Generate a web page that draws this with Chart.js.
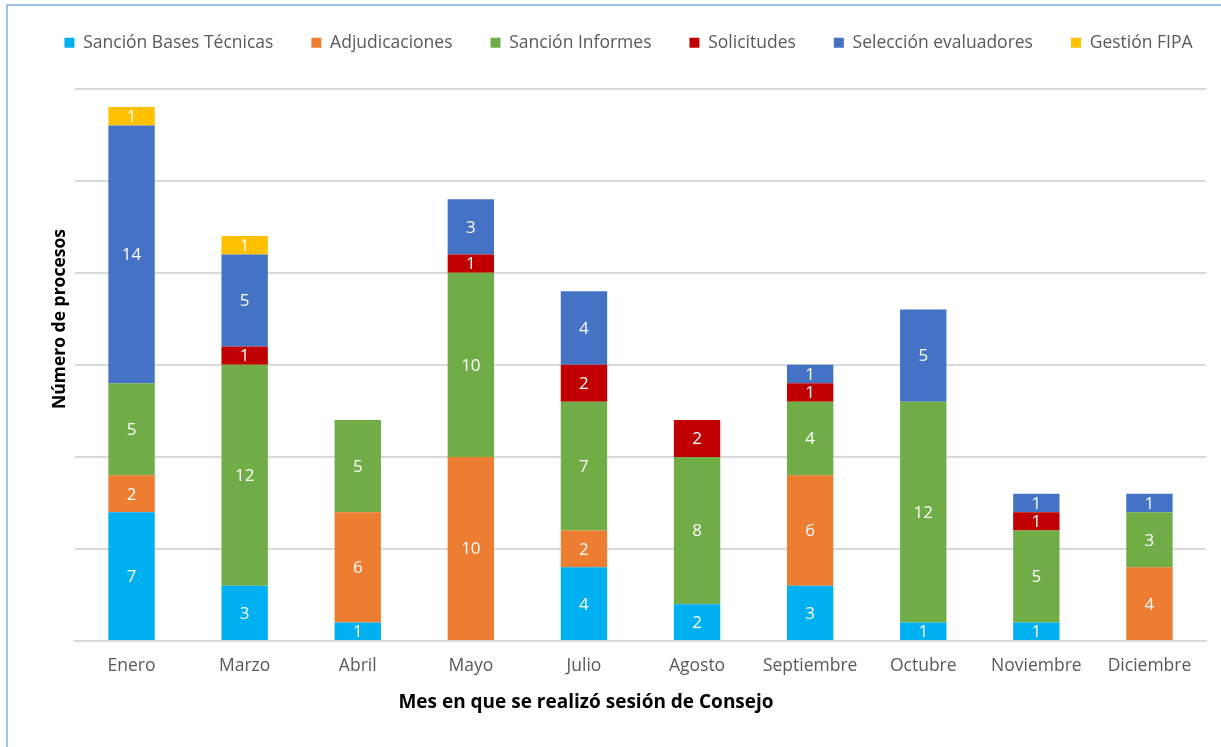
<!DOCTYPE html>
<html>
<head>
<meta charset="utf-8">
<script src="https://cdn.jsdelivr.net/npm/chart.js@4"></script>
<style>
  html, body { margin: 0; padding: 0; background: #fff; }
  #wrap { position: relative; width: 1221px; height: 747px; }
  #frame { position: absolute; left: 6px; top: 4px; right: 0; bottom: 0; border-left: 2px solid #9dc3e6; border-top: 2px solid #9dc3e6; pointer-events: none; }
</style>
</head>
<body>
<div id="wrap">
  <canvas id="myChart" width="1221" height="747"></canvas>
  <div id="frame"></div>
</div>
<script>
const meses = ["Enero", "Marzo", "Abril", "Mayo", "Julio", "Agosto", "Septiembre", "Octubre", "Noviembre", "Diciembre"];

const sancionBases = [7, 3, 1, 0, 4, 2, 3, 1, 1, 0];
const adjudicaciones = [2, 0, 6, 10, 2, 0, 6, 0, 0, 4];
const sancionInformes = [5, 12, 5, 10, 7, 8, 4, 12, 5, 3];
const solicitudes = [0, 1, 0, 1, 2, 2, 1, 0, 1, 0];
const seleccion = [14, 5, 0, 3, 4, 0, 1, 5, 1, 1];
const gestionFipa = [1, 1, 0, 0, 0, 0, 0, 0, 0, 0];

const fontFam = "'Open Sans', 'Liberation Sans', sans-serif";

// numeros blancos dentro de cada segmento
const etiquetas = {
  id: "etiquetas",
  afterDatasetsDraw(chart) {
    const ctx = chart.ctx;
    ctx.save();
    ctx.fillStyle = "#ffffff";
    ctx.font = "17px " + fontFam;
    ctx.textAlign = "center";
    ctx.textBaseline = "middle";
    chart.data.datasets.forEach((ds, i) => {
      const meta = chart.getDatasetMeta(i);
      meta.data.forEach((bar, j) => {
        const v = ds.data[j];
        if (!v) return;
        ctx.fillText(v, bar.x, (bar.y + bar.base) / 2 + 1);
      });
    });
    ctx.restore();
  },
};

// titulos de ejes
const titulos = {
  id: "titulos",
  afterDraw(chart) {
    const ctx = chart.ctx;
    ctx.save();
    ctx.fillStyle = "#000000";
    ctx.textAlign = "center";
    ctx.textBaseline = "middle";
    ctx.font = "bold 19px " + fontFam;
    ctx.fillText("Mes en que se realizó sesión de Consejo", 586, 703);
    ctx.font = "bold 17.5px " + fontFam;
    ctx.translate(60, 319);
    ctx.rotate(-Math.PI / 2);
    ctx.fillText("Número de procesos", 0, 0);
    ctx.restore();
  },
};

// la leyenda va un poco corrida a la derecha
const moverLeyenda = {
  id: "moverLeyenda",
  afterLayout(chart) {
    chart.legend.left += 18;
    chart.legend.right += 18;
  },
};

function serie(label, data, color) {
  return { label: label, data: data, backgroundColor: color, borderWidth: 0, barPercentage: 0.41, categoryPercentage: 1 };
}

const ctx = document.getElementById("myChart").getContext("2d");
const myChart = new Chart(ctx, {
  type: "bar",
  data: {
    labels: meses,
    datasets: [
      serie("Sanción Bases Técnicas", sancionBases, "#00B0F0"),
      serie("Adjudicaciones", adjudicaciones, "#ED7D31"),
      serie("Sanción Informes", sancionInformes, "#70AD47"),
      serie("Solicitudes", solicitudes, "#C00000"),
      serie("Selección evaluadores", seleccion, "#4472C4"),
      serie("Gestión FIPA", gestionFipa, "#FFC000"),
    ],
  },
  options: {
    responsive: false,
    animation: false,
    layout: { padding: { left: 0, right: 0, top: -4, bottom: 0 } },
    plugins: {
      tooltip: { enabled: false },
      // espacio vacio entre leyenda y grafico
      title: { display: true, text: "", weight: 500, font: { size: 1 }, padding: { top: 26, bottom: 0 } },
      legend: {
        position: "top",
        labels: {
          boxWidth: 10,
          boxHeight: 10,
          padding: 38,
          color: "#595959",
          font: { family: fontFam, size: 17.5 },
        },
      },
    },
    scales: {
      x: {
        stacked: true,
        grid: { display: false, drawTicks: false },
        border: { color: "#d9d9d9", width: 2 },
        ticks: { color: "#595959", padding: 15, font: { family: fontFam, size: 17.5 } },
        afterFit(scale) { scale.height = 106; },
      },
      y: {
        stacked: true,
        min: 0,
        max: 30,
        ticks: { display: false, stepSize: 5 },
        grid: { color: "#d9d9d9", lineWidth: 2, drawTicks: false },
        border: { display: false },
        afterFit(scale) { scale.width = 75; },
      },
      // eje vacio a la derecha para dejar margen
      margen: {
        position: "right",
        display: true,
        ticks: { display: false },
        grid: { display: false, drawTicks: false },
        border: { display: false },
        afterFit(scale) { scale.width = 15; },
      },
    },
  },
  plugins: [etiquetas, titulos, moverLeyenda],
});
</script>
</body>
</html>
